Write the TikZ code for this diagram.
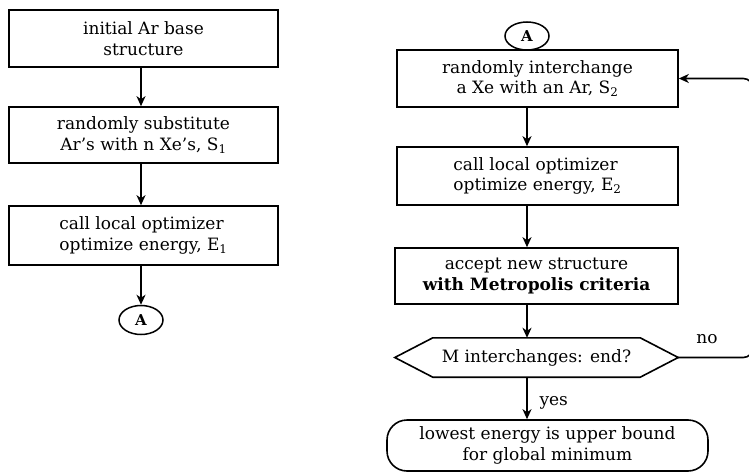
\documentclass[tikz,border=0pt]{standalone}
\usepackage{fontspec}
\setmainfont{DejaVu Serif}
\usetikzlibrary{arrows.meta,shapes.geometric,calc}
\begin{document}
\begin{tikzpicture}[x=1pt,y=-1pt,
  txt/.style={font=\fontsize{17}{20.5}\selectfont},
  box/.style={draw, line width=1.6pt, inner sep=0pt, align=center, txt},
  conn/.style={draw, ellipse, line width=1.5pt, inner sep=0pt, minimum width=44pt, minimum height=29pt, font=\fontsize{15}{15}\selectfont\bfseries},
  arr/.style={line width=1.6pt, -{Stealth[length=10pt,width=9pt,inset=3pt]}},
  ln/.style={line width=1.6pt}
]
\useasboundingbox (0,0) rectangle (749,473);
\clip (0,0) rectangle (749,473);
% left column
\node[box, minimum width=269pt, minimum height=57pt] (b1) at (143.5,38.5) {initial Ar base\\structure};
\node[box, minimum width=269pt, minimum height=56pt] (b2) at (143.5,135) {randomly substitute\\Ar's with n Xe's, S\textsubscript{1}};
\node[box, minimum width=269pt, minimum height=59pt, align=left] (b3) at (143.5,235.5) {call local optimizer\\optimize energy, E\textsubscript{1}};
\node[conn] (a1) at (141,320) {A};
\draw[arr] (b1.south -| a1) -- (b2.north -| a1);
\draw[arr] (b2.south -| a1) -- (b3.north -| a1);
\draw[arr] (b3.south -| a1) -- (a1.north);
% right column
\node[conn, minimum height=28pt] (a2) at (527,36) {A};
\node[box, minimum width=281pt, minimum height=57pt] (r1) at (537.5,78.5) {randomly interchange\\a Xe with an Ar, S\textsubscript{2}};
\node[box, minimum width=281pt, minimum height=58pt, align=left] (r2) at (537.5,176) {call local optimizer\\optimize energy, E\textsubscript{2}};
\node[box, minimum width=283pt, minimum height=56pt] (r3) at (536.5,276) {accept new structure\\\textbf{with Metropolis criteria}};
\node[txt, minimum width=283pt, minimum height=39pt, inner sep=0pt] (hex) at (536.5,357.5) {M interchanges: end?};
\draw[ln] (hex.west) -- ($(hex.north west)+(38,0)$) -- ($(hex.north east)+(-38,0)$) -- (hex.east) -- ($(hex.south east)+(-38,0)$) -- ($(hex.south west)+(38,0)$) -- cycle;
\node[box, rounded corners=20pt, minimum width=321pt, minimum height=51pt] (term) at (547.5,445.5) {lowest energy is upper bound\\for global minimum};
\draw[arr] (r1.south -| a2) -- (r2.north -| a2);
\draw[arr] (r2.south -| a2) -- (r3.north -| a2);
\draw[arr] (r3.south -| a2) -- (hex.north -| a2);
\draw[arr] (hex.south -| a2) -- (term.north -| a2);
\node[txt, anchor=west] (yes) at (536,403) {yes};
\node[txt] (no) at (707,339) {no};
\draw[arr, rounded corners=10pt] (hex.east) -- ++(75,0) |- (r1.east);
\end{tikzpicture}
\end{document}
